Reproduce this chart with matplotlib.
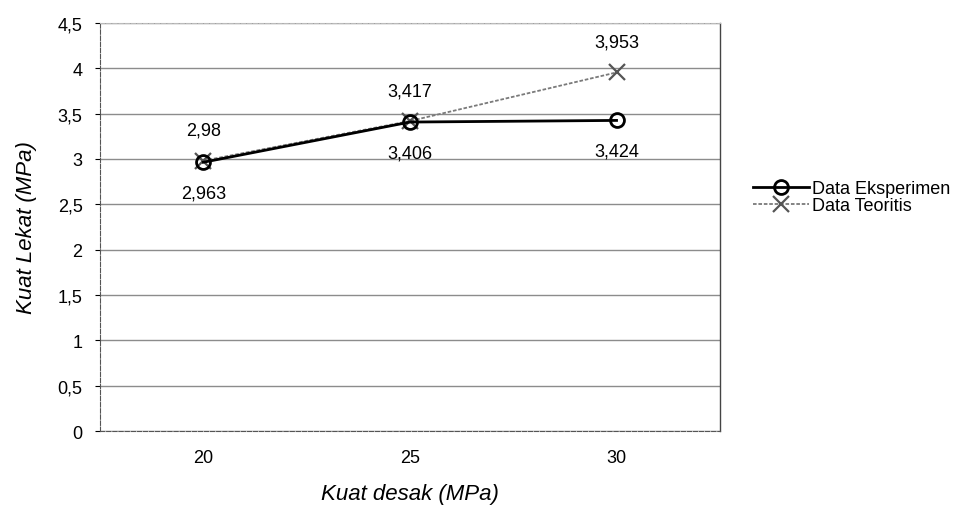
import matplotlib.pyplot as plt

plt.rcParams['font.family'] = ['Liberation Sans', 'DejaVu Sans']

categories = ['20', '25', '30']
eksperimen = [2.963, 3.406, 3.424]
teoritis = [2.98, 3.417, 3.953]
eksperimen_labels = ['2,963', '3,406', '3,424']
teoritis_labels = ['2,98', '3,417', '3,953']
y_ticks = [0, 0.5, 1, 1.5, 2, 2.5, 3, 3.5, 4, 4.5]
y_tick_labels = ['0', '0,5', '1', '1,5', '2', '2,5', '3', '3,5', '4', '4,5']

fig = plt.figure(figsize=(9.73, 5.06), dpi=100)
ax = fig.add_axes([0.1028, 0.146, 0.637, 0.807])

x = range(len(categories))

ax.plot(x, teoritis, color='#7a7a7a', lw=1.3, ls=(0, (2, 1)),
        marker='x', ms=11, mew=1.6, mec='#555555', label='Data Teoritis', zorder=3)
ax.plot(x, eksperimen, color='black', lw=2, marker='o', ms=10, mew=2,
        mfc='none', mec='black', label='Data Eksperimen', zorder=4)

for i in x:
    ax.annotate(teoritis_labels[i], (i, teoritis[i]), xytext=(0, 22),
                textcoords='offset points', ha='center', va='center', fontsize=13)
    ax.annotate(eksperimen_labels[i], (i, eksperimen[i]), xytext=(0, -22),
                textcoords='offset points', ha='center', va='center', fontsize=13)

ax.set_xlim(-0.5, 2.5)
ax.set_ylim(0, 4.5)
ax.set_xticks(list(x))
ax.set_xticklabels(categories, fontsize=13)
ax.set_yticks(y_ticks)
ax.set_yticklabels(y_tick_labels, fontsize=13)
ax.tick_params(axis='x', length=0, pad=13)
ax.tick_params(axis='y', length=3.6, width=0.8, pad=9)

ax.grid(axis='y', color='#8c8c8c', lw=1)
ax.set_axisbelow(True)
for side in ['left', 'bottom', 'top']:
    ax.spines[side].set_color('#555555')
    ax.spines[side].set_linewidth(0.8)
    ax.spines[side].set_linestyle((0, (4, 1.5)))
ax.spines['top'].set_color('#bbbbbb')
ax.spines['right'].set_color('#444444')
ax.spines['right'].set_linewidth(1)

ax.set_xlabel('Kuat desak (MPa)', fontsize=16, style='italic')
ax.xaxis.set_label_coords(0.5, -0.128)
ax.xaxis.label.set_va('top')
ax.set_ylabel('Kuat Lekat (MPa)', fontsize=16, style='italic')
ax.yaxis.set_label_coords(-0.101, 0.5)

handles, labels = ax.get_legend_handles_labels()
fig.legend(handles[::-1], labels[::-1], loc='upper left',
           bbox_to_anchor=(753 / 973, 1 - 181 / 506), frameon=False, fontsize=13,
           handlelength=3.1, handletextpad=0.15, labelspacing=0.0,
           borderpad=0, borderaxespad=0)

fig.savefig('out.png', dpi=100)
